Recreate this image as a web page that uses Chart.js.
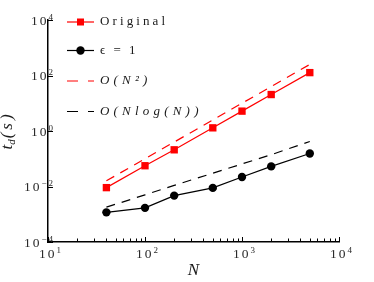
<!DOCTYPE html>
<html>
<head>
<meta charset="utf-8">
<script src="https://cdn.jsdelivr.net/npm/chart.js@4.4.1/dist/chart.umd.min.js"></script>
<style>
  body { margin: 0; background: #fff; }
  canvas { display: block; }
</style>
</head>
<body>
<canvas id="runtimeChart" width="374" height="282"></canvas>
<script>
const sizes = [40, 100, 200, 500, 1000, 2000, 5000];
const originalTimes = [0.0091, 0.056, 0.21, 1.3, 5.2, 20.6, 127];
const eps1Times = [0.00117, 0.0017, 0.0047, 0.0089, 0.022, 0.053, 0.155];
// reference slopes
const quadRef = [0.016, 0.1, 0.4, 2.5, 10, 40, 250];
const nlognRef = [0.0018, 0.005, 0.011, 0.03, 0.065, 0.14, 0.42];
// axis decades
const xTickExps = [1, 2, 3, 4];
const yTickExps = [-4, -2, 0, 2, 4];
const seriesLabels = ['Original', 'ϵ = 1', 'O(N²)', 'O(Nlog(N))'];

const serif = "'Liberation Serif', 'DejaVu Serif', serif";

function toPoints(values) {
    return sizes.map((n, i) => ({ x: n, y: values[i] }));
}

// "10" with a raised exponent
function drawPower(ctx, exp, x, y, align) {
    const sup = exp < 0 ? '\u2212' + Math.abs(exp) : String(exp);
    ctx.letterSpacing = '2px';
    ctx.font = '13.5px ' + serif;
    const wb = ctx.measureText('10').width;
    ctx.font = '9px ' + serif;
    const ws = ctx.measureText(sup).width - 2;
    let left = x;
    if (align === 'right') left = x - wb - ws;
    if (align === 'center') left = x - (wb + ws) / 2;
    ctx.textAlign = 'left';
    ctx.textBaseline = 'middle';
    ctx.font = '13.5px ' + serif;
    ctx.fillText('10', left, y);
    ctx.font = '9px ' + serif;
    ctx.fillText(sup, left + wb, y - 3.5);
}

const axisDecor = {
    id: 'axisDecor',
    afterDraw(chart) {
        const { ctx, chartArea, scales: { x, y } } = chart;
        ctx.save();
        ctx.strokeStyle = '#000';
        ctx.fillStyle = '#2a2a2a';
        ctx.lineWidth = 1;

        // inward ticks on x, minor ones at 2..9
        ctx.beginPath();
        for (let e = 1; e <= 4; e++) {
            for (let m = 1; m <= 9; m++) {
                if (e === 4 && m > 1) break;
                const px = Math.round(x.getPixelForValue(m * Math.pow(10, e))) + 0.5;
                const len = m === 1 ? 5 : 3.5;
                ctx.moveTo(px, chartArea.bottom);
                ctx.lineTo(px, chartArea.bottom - len);
            }
        }
        yTickExps.forEach(e => {
            const py = Math.round(y.getPixelForValue(Math.pow(10, e))) + 0.5;
            ctx.moveTo(chartArea.left, py);
            ctx.lineTo(chartArea.left + 5, py);
        });
        ctx.stroke();

        xTickExps.forEach(e => {
            drawPower(ctx, e, x.getPixelForValue(Math.pow(10, e)) + 2, chartArea.bottom + 12, 'center');
        });
        yTickExps.forEach(e => {
            drawPower(ctx, e, chartArea.left + 5, y.getPixelForValue(Math.pow(10, e)) + 1, 'right');
        });

        // y title t_d(s)
        ctx.save();
        ctx.translate(0, 131);
        ctx.rotate(-Math.PI / 2);
        ctx.fillStyle = '#1a1a1a';
        ctx.textAlign = 'left';
        ctx.textBaseline = 'alphabetic';
        ctx.letterSpacing = '0px';
        ctx.font = 'italic 17px ' + serif;
        const wt = ctx.measureText('t').width;
        ctx.font = 'italic 11px ' + serif;
        const wd = ctx.measureText('d').width;
        ctx.font = 'italic 17px ' + serif;
        ctx.letterSpacing = '3px';
        const wr = ctx.measureText('(s)').width;
        let u = -(wt + wd + wr) / 2;
        ctx.letterSpacing = '0px';
        ctx.fillText('t', u, 12);
        ctx.font = 'italic 11px ' + serif;
        ctx.fillText('d', u + wt, 15);
        ctx.font = 'italic 17px ' + serif;
        ctx.letterSpacing = '3px';
        ctx.fillText('(s)', u + wt + wd + 1, 12);
        ctx.restore();

        // legend in the upper left of the plot
        const rowY = [22, 50.5, 81, 111.5];
        chart.data.datasets.forEach((ds, i) => {
            const yy = rowY[i];
            ctx.strokeStyle = ds.borderColor;
            ctx.lineWidth = ds.borderWidth;
            ctx.setLineDash(ds.borderDash && ds.borderDash.length ? [11, 10] : []);
            ctx.beginPath();
            ctx.moveTo(67, yy);
            ctx.lineTo(94, yy);
            ctx.stroke();
            ctx.setLineDash([]);
            ctx.fillStyle = ds.borderColor;
            if (ds.pointRadius > 0) {
                if (ds.pointStyle === 'rect') {
                    ctx.fillRect(77, yy - 3.5, 7, 7);
                } else {
                    ctx.beginPath();
                    ctx.arc(80.5, yy, 4.2, 0, Math.PI * 2);
                    ctx.fill();
                }
            }
            const math = ds.label.startsWith('O(');
            ctx.fillStyle = '#1a1a1a';
            ctx.font = (math ? 'italic ' : '') + '13px ' + serif;
            ctx.letterSpacing = math ? '4.2px' : (i === 0 ? '3.1px' : '2.5px');
            ctx.textAlign = 'left';
            ctx.textBaseline = 'middle';
            ctx.fillText(ds.label, 100, yy);
        });
        ctx.restore();
    }
};

const ctx = document.getElementById('runtimeChart').getContext('2d');
new Chart(ctx, {
    type: 'line',
    data: {
        datasets: [
            {
                label: seriesLabels[0],
                data: toPoints(originalTimes),
                borderColor: '#ff0000',
                backgroundColor: '#ff0000',
                borderWidth: 1.2,
                pointStyle: 'rect',
                pointRadius: 5.2,
                pointBorderWidth: 0
            },
            {
                label: seriesLabels[1],
                data: toPoints(eps1Times),
                borderColor: '#000000',
                backgroundColor: '#000000',
                borderWidth: 1.2,
                pointStyle: 'circle',
                pointRadius: 4.2,
                pointBorderWidth: 0
            },
            {
                label: seriesLabels[2],
                data: toPoints(quadRef),
                borderColor: '#ff0000',
                borderWidth: 1.2,
                borderDash: [9, 7],
                pointRadius: 0
            },
            {
                label: seriesLabels[3],
                data: toPoints(nlognRef),
                borderColor: '#000000',
                borderWidth: 1.2,
                borderDash: [9, 7],
                pointRadius: 0
            }
        ]
    },
    options: {
        responsive: false,
        animation: false,
        layout: { padding: { left: 0, right: 35, top: 20, bottom: 0 } },
        plugins: {
            legend: { display: false },
            tooltip: { enabled: false }
        },
        scales: {
            x: {
                type: 'logarithmic',
                min: 10,
                max: 10000,
                grid: { display: false },
                border: { display: true, color: '#000', width: 1.5 },
                ticks: { display: false },
                title: {
                    display: true,
                    text: 'N',
                    color: '#1a1a1a',
                    font: { family: serif, size: 17, style: 'italic' },
                    padding: { top: 0, bottom: 1 }
                },
                afterFit(scale) { scale.height = 40; }
            },
            y: {
                type: 'logarithmic',
                min: 1e-4,
                max: 1e4,
                grid: { display: false },
                border: { display: true, color: '#000', width: 1.5 },
                ticks: { display: false },
                afterFit(scale) { scale.width = 48; }
            }
        }
    },
    plugins: [axisDecor]
});
</script>
</body>
</html>
